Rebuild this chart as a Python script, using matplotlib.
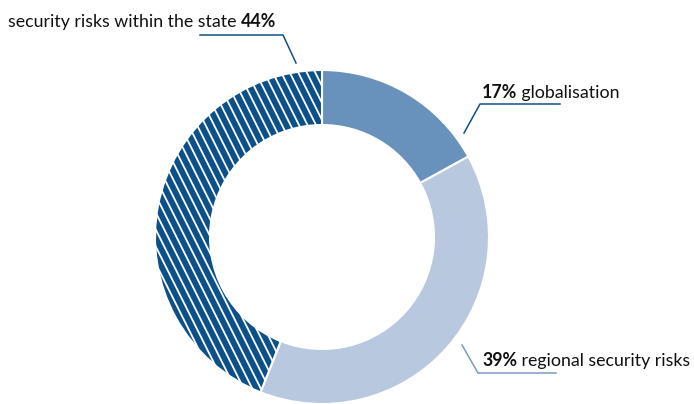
import matplotlib
matplotlib.use("Agg")
import matplotlib.pyplot as plt
import numpy as np

categories = ["globalisation", "regional security risks", "security risks within the state"]
values = [17, 39, 44]
colors = ["#6891bb", "#b7c8df", "#0b5088"]

plt.rcParams['font.family'] = ['Lato', 'DejaVu Sans']

W, H = 694, 404
fig = plt.figure(figsize=(W / 100, H / 100), dpi=100)
ax = fig.add_axes([0, 0, 1, 1])

cx, cy, R, r = 322, H - 237, 167, 112
wedges, _ = ax.pie(values, colors=colors, startangle=90, counterclock=False,
                   center=(cx, cy), radius=R, frame=True,
                   wedgeprops=dict(width=R - r, edgecolor='white', linewidth=1.5))
ax.set_xlim(0, W)
ax.set_ylim(0, H)
ax.set_aspect('equal')
ax.axis('off')

# white diagonal stripes on the last wedge
hw = wedges[2]
spacing = 8.5
for x0 in np.arange(cx - R - 2 * R, cx + R + 2 * R, spacing):
    ln, = ax.plot([x0, x0 + R], [cy + R, cy - R], color='white', lw=1.3,
                  solid_capstyle='butt', zorder=hw.get_zorder() + 0.1)
    ln.set_clip_path(hw)

fs = 12.8
ink = '#111111'
def Y(y):
    return H - y

fig.canvas.draw()
rend = fig.canvas.get_renderer()

def width_of(t):
    return t.get_window_extent(renderer=rend).width

def label(x, y, first, second, first_bold):
    t1 = ax.text(x, Y(y), first, fontsize=fs, color=ink, va='baseline',
                 fontweight='bold' if first_bold else 'normal')
    w = width_of(t1)
    ax.text(x + w, Y(y), second, fontsize=fs, color=ink, va='baseline',
            fontweight='normal' if first_bold else 'bold')

# 17% globalisation
ax.plot([464, 480, 560], [Y(133), Y(104), Y(104)], color="#0f4f87", lw=1.1)
label(482, 98, f"{values[0]}%", f" {categories[0]}", True)

# 39% regional
ax.plot([462, 478, 556], [Y(345), Y(373), Y(373)], color="#7a9bc0", lw=1.1)
label(482, 366, f"{values[1]}%", f" {categories[1]}", True)

# 44% within state
ax.plot([200, 283, 296], [Y(35), Y(35), Y(63)], color="#0f4f87", lw=1.1)
label(8, 27, f"{categories[2]} ", f"{values[2]}%", False)

fig.savefig("out.png", dpi=100)
